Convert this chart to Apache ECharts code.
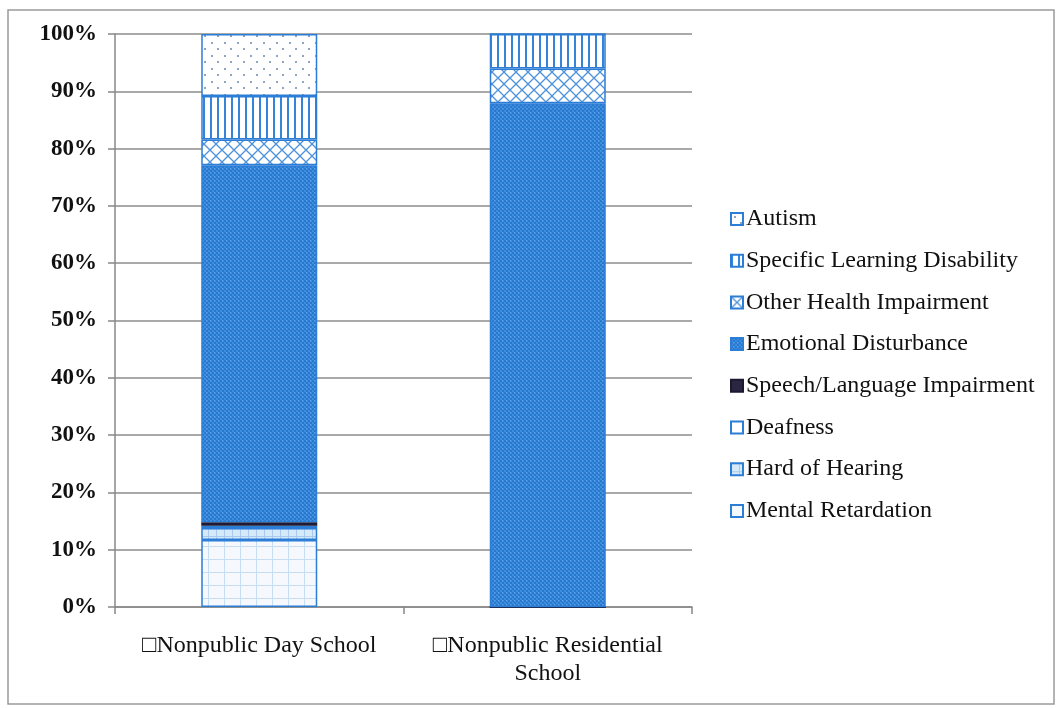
<!DOCTYPE html>
<html>
<head>
<meta charset="utf-8">
<script src="https://cdn.jsdelivr.net/npm/echarts@6/dist/echarts.min.js"></script>
<style>
  html, body { margin: 0; padding: 0; background: #fff; }
  #chart { width: 1058px; height: 708px; }
</style>
</head>
<body>
<div id="chart"></div>
<script>
// data (percent of students)
var categories = ['\u25A1Nonpublic Day School', '\u25A1Nonpublic Residential\nSchool'];
var yTicks = [0, 10, 20, 30, 40, 50, 60, 70, 80, 90, 100];

var mentalRetardation = [11.7, 0];
var hardOfHearing = [2.1, 0];
var deafness = [0.4, 0];
var speechLanguage = [0.6, 0];
var emotionalDisturbance = [62.3, 87.9];
var otherHealth = [4.5, 6.1];
var learningDisability = [7.6, 6.0];
var autism = [10.8, 0];

var seriesNames = ['Mental Retardation', 'Hard of Hearing', 'Deafness', 'Speech/Language Impairment',
    'Emotional Disturbance', 'Other Health Impairment', 'Specific Learning Disability', 'Autism'];
var seriesData = [mentalRetardation, hardOfHearing, deafness, speechLanguage,
    emotionalDisturbance, otherHealth, learningDisability, autism];

// small canvas tiles to mimic the hatch fills
function makePattern(w, h, bg, draw) {
    var c = document.createElement('canvas');
    c.width = w;
    c.height = h;
    var ctx = c.getContext('2d');
    ctx.fillStyle = bg;
    ctx.fillRect(0, 0, w, h);
    if (draw) draw(ctx);
    return { image: c, repeat: 'repeat' };
}

var fills = [
    // mental retardation - faint grid
    makePattern(16, 13, '#f5f9fd', function (ctx) {
        ctx.fillStyle = '#c6ddf2';
        ctx.fillRect(0, 0, 1, 13);
        ctx.fillRect(0, 0, 16, 1);
    }),
    // hard of hearing - light blue grid
    makePattern(8, 8, '#d6e9f9', function (ctx) {
        ctx.fillStyle = '#a8cbed';
        ctx.fillRect(0, 0, 1, 8);
        ctx.fillRect(0, 0, 8, 1);
    }),
    // deafness - plain
    '#ffffff',
    // speech/language - dark
    '#2a2540',
    // emotional disturbance - fine dotted blue
    makePattern(4, 4, '#3b8fe1', function (ctx) {
        ctx.fillStyle = '#2a77cc';
        ctx.fillRect(0, 0, 2, 2);
        ctx.fillRect(2, 2, 2, 2);
        ctx.fillStyle = '#5da6ee';
        ctx.fillRect(2, 0, 1, 1);
    }),
    // other health - diagonal cross hatch
    makePattern(12, 12, '#ffffff', function (ctx) {
        ctx.strokeStyle = '#4c92da';
        ctx.lineWidth = 1.3;
        ctx.beginPath();
        ctx.moveTo(0, 0); ctx.lineTo(12, 12);
        ctx.moveTo(12, 0); ctx.lineTo(0, 12);
        ctx.stroke();
    }),
    // specific learning disability - vertical lines
    makePattern(7, 4, '#ffffff', function (ctx) {
        ctx.fillStyle = '#3584d9';
        ctx.fillRect(0, 0, 2, 4);
    }),
    // autism - dots
    makePattern(13, 13, '#ffffff', function (ctx) {
        ctx.fillStyle = '#8fa6c2';
        ctx.fillRect(3, 3, 2, 2);
        ctx.fillRect(9, 9, 2, 2);
    })
];

var series = [];
for (var i = 0; i < seriesNames.length; i++) {
    series.push({
        name: seriesNames[i],
        type: 'bar',
        stack: 'total',
        barWidth: 116,
        data: seriesData[i],
        itemStyle: {
            color: fills[i],
            borderColor: i === 3 ? '#1c1830' : '#2c7dd6',
            borderWidth: 1.5
        }
    });
}

var chart = echarts.init(document.getElementById('chart'));

var option = {
    animation: false,
    textStyle: { fontFamily: 'Liberation Serif' },
    graphic: [{
        type: 'rect',
        shape: { x: 8, y: 10, width: 1046, height: 694 },
        style: { fill: 'none', stroke: '#9a9a9a', lineWidth: 1.5 },
        silent: true
    }],
    grid: { left: 115, right: 366, top: 34, bottom: 101 },
    legend: {
        orient: 'vertical',
        left: 725,
        top: 202,
        itemWidth: 12,
        itemHeight: 12,
        itemGap: 17.7,
        icon: 'rect',
        data: seriesNames.slice().reverse(),
        textStyle: { fontFamily: 'Liberation Serif', fontSize: 24, color: '#111', lineHeight: 24, padding: [0, 0, 0, -2] }
    },
    xAxis: {
        type: 'category',
        data: categories,
        axisLine: { lineStyle: { color: '#888', width: 1.5 } },
        axisTick: { show: true, length: 7, lineStyle: { color: '#888', width: 1.5 } },
        axisLabel: {
            interval: 0,
            hideOverlap: false,
            fontFamily: 'Liberation Serif',
            fontSize: 24,
            color: '#111',
            lineHeight: 28,
            margin: 25,
            align: 'center'
        }
    },
    yAxis: {
        type: 'value',
        min: yTicks[0],
        max: yTicks[yTicks.length - 1],
        interval: 10,
        axisLine: { show: true, lineStyle: { color: '#888', width: 1.5 } },
        axisTick: { show: true, length: 7, lineStyle: { color: '#888', width: 1.5 } },
        splitLine: { lineStyle: { color: '#8c8c8c', width: 1.5 } },
        axisLabel: {
            formatter: '{value}%',
            fontFamily: 'Liberation Serif',
            fontWeight: 'bold',
            fontSize: 23,
            color: '#111',
            margin: 18
        }
    },
    series: series
};

chart.setOption(option);
</script>
</body>
</html>
